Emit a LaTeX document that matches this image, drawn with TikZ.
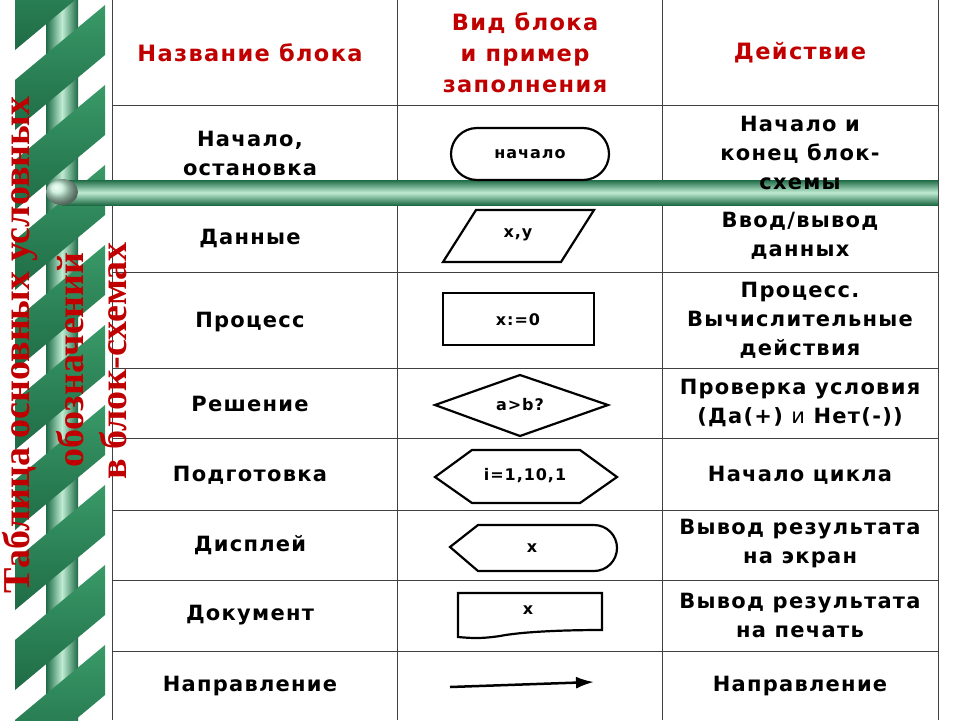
\documentclass[tikz,border=0pt]{standalone}
\usepackage{fontspec}
\setmainfont[LetterSpace=6]{DejaVu Sans}
\newfontfamily\serifb{Liberation Serif}
\usetikzlibrary{shapes.geometric,arrows.meta}
\definecolor{hred}{HTML}{C00000}
\definecolor{gdark}{HTML}{1E6B45}
\definecolor{gmid}{HTML}{3A9A68}
\definecolor{glight}{HTML}{BFEBD3}
\begin{document}
\begin{tikzpicture}[x=1pt,y=-1pt,
  grid/.style={draw=black!75,line width=1pt},
  txt/.style={font=\bfseries\fontsize{21}{29}\selectfont,align=center},
  hdr/.style={font=\bfseries\fontsize{22.5}{31}\selectfont,align=center,text=hred},
  blk/.style={draw=black,line width=2.2pt},
  blab/.style={font=\bfseries\fontsize{16}{18}\selectfont},
  ttl/.style={font=\serifb\bfseries\fontsize{38}{38}\selectfont,text=hred,rotate=90}]
\useasboundingbox (0,0) rectangle (960,720);
\fill[white] (0,0) rectangle (960,720);
% pole
\shade[left color=gdark,right color=gdark,middle color=glight] (46,0) rectangle (78,720);
% ribbons
\foreach \k in {-1,...,9}{
  \pgfmathsetmacro{\yy}{\k*80}
  \shade[top color=gmid,bottom color=gdark] (15,\yy+80) -- (105,\yy+5) -- (105,\yy+55) -- (15,\yy+130) -- cycle;
}
% table
\draw[grid] (112,0) -- (112,720);
\draw[grid] (397,0) -- (397,720);
\draw[grid] (662,0) -- (662,720);
\draw[grid] (938,0) -- (938,720);
\foreach \y in {105,205,272,368,438,510,580,651}{\draw[grid] (112,\y) -- (938,\y);}
% rod
\shade[top color=gdark,bottom color=gdark,middle color=glight] (62,180) rectangle (938,205);
\shade[ball color=glight] (62,192) ellipse (16 and 13);
% title
\node[ttl] (t1) at (20,345) {Таблица основных условных};
\node[ttl] (t2) at (70,360) {обозначений};
\node[ttl] (t3) at (113,361) {в блок-схемах};
% headers
\node[hdr] (h1) at (250,53) {Название блока};
\node[hdr] (h2) at (525,53) {Вид блока\\и пример\\заполнения};
\node[hdr] (h3) at (800,53) {Действие};
% names
\node[txt] (n1) at (250,153) {Начало,\\остановка};
\node[txt] (n2) at (250,238) {Данные};
\node[txt] (n3) at (250,322) {Процесс};
\node[txt] (n4) at (250,404) {Решение};
\node[txt] (n5) at (250,475) {Подготовка};
\node[txt] (n6) at (250,545) {Дисплей};
\node[txt] (n7) at (250,615) {Документ};
\node[txt] (n8) at (250,686) {Направление};
% actions
\node[txt] (a1) at (800,153) {Начало и\\конец блок-\\схемы};
\node[txt] (a2) at (800,236) {Ввод/вывод\\данных};
\node[txt] (a3) at (800,320) {Процесс.\\Вычислительные\\действия};
\node[txt] (a4) at (800,403) {Проверка условия\\(Да(+) {\mdseries и} Нет(-))};
\node[txt] (a5) at (800,475) {Начало цикла};
\node[txt] (a6) at (800,544) {Вывод результата\\на экран};
\node[txt] (a7) at (800,615) {Вывод результата\\на печать};
\node[txt] (a8) at (800,686) {Направление};
% shapes
\draw[blk,rounded corners=26] (451,128) rectangle (609,180);
\node[blab] (b1) at (530,154) {начало};
\draw[blk] (443,262) -- (476,210) -- (594,210) -- (561,262) -- cycle;
\node[blab] (b2) at (518,235) {x,y};
\draw[blk] (443,293) rectangle (594,345);
\node[blab] (b3) at (518,320) {x:=0};
\draw[blk] (435,405) -- (520,375) -- (608,405) -- (520,436) -- cycle;
\node[blab] (b4) at (520,405) {a>b?};
\draw[blk] (435,477) -- (472,450) -- (580,450) -- (617,477) -- (580,503) -- (472,503) -- cycle;
\node[blab] (b5) at (525,476) {i=1,10,1};
\draw[blk] (450,547) -- (478,525) -- (594,525) arc[start angle=-90,end angle=90,radius=23] -- (478,571) -- cycle;
\node[blab] (b6) at (532,548) {x};
\draw[blk] (458,593) -- (602,593) -- (602,630) .. controls (560,630) and (520,632) .. (500,636) .. controls (480,639) and (470,638) .. (458,637) -- cycle;
\node[blab] (b7) at (528,610) {x};
\coordinate (p1) at (450,687);
\coordinate (p2) at (594,682);
\draw[line width=2.5pt,-{Latex[length=18pt,width=12pt]}] (p1) -- (p2);
\end{tikzpicture}
\end{document}
